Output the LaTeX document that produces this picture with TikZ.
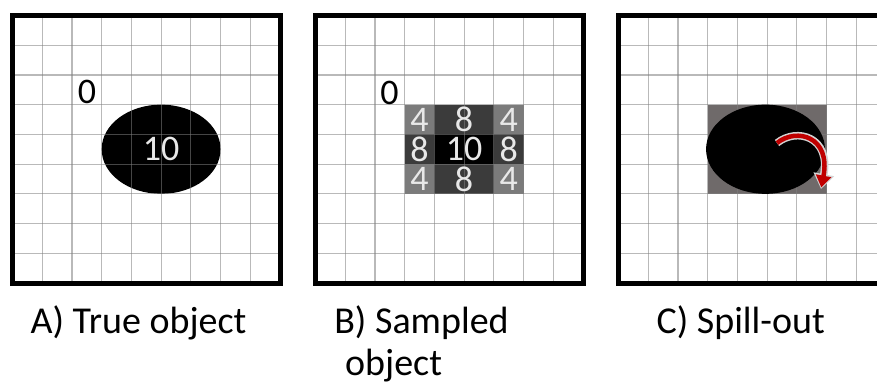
\documentclass[tikz,border=0pt]{standalone}
\usepackage{fontspec}
\setmainfont{Carlito}
\usetikzlibrary{arrows.meta,shapes.geometric}
\definecolor{lgray}{HTML}{7B7B7B}
\definecolor{dgray}{HTML}{3B3B3B}
\definecolor{cgray}{HTML}{6F6A6A}
\definecolor{numw}{HTML}{E8E8E8}
\definecolor{arrred}{HTML}{C00000}
\definecolor{arrline}{HTML}{D4D4D4}
\begin{document}
\begin{tikzpicture}[x=1pt,y=-1pt,
  gridline/.style={draw=gray, draw opacity=0.55, line width=1.2pt},
  frame/.style={draw=black, line width=5pt},
  blob/.style={ellipse, fill=black, minimum width=118.9pt, minimum height=89.2pt, inner sep=0pt},
  num/.style={text=numw, font=\fontsize{36}{36}\selectfont, inner sep=0pt, anchor=center},
  zero/.style={text=black, font=\fontsize{36}{36}\selectfont, inner sep=0pt, anchor=center},
  caption/.style={font=\fontsize{38}{42}\selectfont, inner sep=0pt, anchor=base},
  arrowedge/.style={draw=arrline, line width=7.5pt, -{Triangle[length=15pt,width=20pt]}},
  arrowcore/.style={draw=arrred, line width=4.5pt, shorten >=1.5pt, -{Triangle[length=12pt,width=15pt]}},
]
\def\cs{29.72}
\def\ps{267.5}
\useasboundingbox (0,0) rectangle (877,385);
\clip (0,0) rectangle (877,385);
\fill[white] (0,0) rectangle (877,385);

% ---------- Panel A ----------
\begin{scope}[shift={(12.5,15.5)}]
  \node[blob] (ellA) at (5*\cs,4.5*\cs) {};
  \foreach \i in {1,...,8} {
    \draw[gridline] (\i*\cs,0) -- (\i*\cs,\ps);
    \draw[gridline] (0,\i*\cs) -- (\ps,\i*\cs);
  }
  \draw[frame] (0,0) rectangle (\ps,\ps);
  \node[zero] (zeroA) at (74.5,76.5) {0};
  \node[num] (tenA) at (ellA.center) {10};
\end{scope}

% ---------- Panel B ----------
\begin{scope}[shift={(315.5,15.5)}]
  \fill[lgray] (3*\cs,3*\cs) rectangle (4*\cs,4*\cs);
  \fill[dgray] (4*\cs,3*\cs) rectangle (6*\cs,4*\cs);
  \fill[lgray] (6*\cs,3*\cs) rectangle (7*\cs,4*\cs);
  \fill[dgray] (3*\cs,4*\cs) rectangle (4*\cs,5*\cs);
  \fill[black] (4*\cs,4*\cs) rectangle (6*\cs,5*\cs);
  \fill[dgray] (6*\cs,4*\cs) rectangle (7*\cs,5*\cs);
  \fill[lgray] (3*\cs,5*\cs) rectangle (4*\cs,6*\cs);
  \fill[dgray] (4*\cs,5*\cs) rectangle (6*\cs,6*\cs);
  \fill[lgray] (6*\cs,5*\cs) rectangle (7*\cs,6*\cs);
  \foreach \i in {1,...,8} {
    \draw[gridline] (\i*\cs,0) -- (\i*\cs,\ps);
    \draw[gridline] (0,\i*\cs) -- (\ps,\i*\cs);
  }
  \draw[frame] (0,0) rectangle (\ps,\ps);
  \node[zero] (zeroB) at (74,77) {0};
  \node[num] (b11) at (3.5*\cs,3.5*\cs) {4};
  \node[num] (b12) at (5*\cs,3.5*\cs) {8};
  \node[num] (b13) at (6.5*\cs,3.5*\cs) {4};
  \node[num] (b21) at (3.5*\cs,4.5*\cs) {8};
  \node[num] (b22) at (5*\cs,4.5*\cs) {10};
  \node[num] (b23) at (6.5*\cs,4.5*\cs) {8};
  \node[num] (b31) at (3.5*\cs,5.5*\cs) {4};
  \node[num] (b32) at (5*\cs,5.5*\cs) {8};
  \node[num] (b33) at (6.5*\cs,5.5*\cs) {4};
\end{scope}

% ---------- Panel C ----------
\begin{scope}[shift={(618.5,15.5)}]
  \fill[cgray] (3*\cs,3*\cs) rectangle (7*\cs,6*\cs);
  \foreach \i in {1,...,8} {
    \draw[gridline] (\i*\cs,0) -- (\i*\cs,\ps);
    \draw[gridline] (0,\i*\cs) -- (\ps,\i*\cs);
  }
  \node[blob] (ellC) at (147,4.5*\cs) {};
  \draw[frame] (0,0) rectangle (\ps,\ps);
\end{scope}

\coordinate (arrS) at (777,143);
\coordinate (arrC1) at (797,127);
\coordinate (arrC2) at (831,137);
\coordinate (arrE) at (821,189);
\draw[arrowedge] (arrS) .. controls (arrC1) and (arrC2) .. (arrE);
\draw[arrowcore] (arrS) .. controls (arrC1) and (arrC2) .. (arrE);

% ---------- Captions ----------
\node[caption] (capA) at (138.5,333) {A) True object};
\node[caption] (capB) at (421.5,333) {B) Sampled};
\node[caption, anchor=base west] (capB2) at (345,375) {object};
\node[caption] (capC) at (740.7,333) {C) Spill-out};
\end{tikzpicture}
\end{document}
